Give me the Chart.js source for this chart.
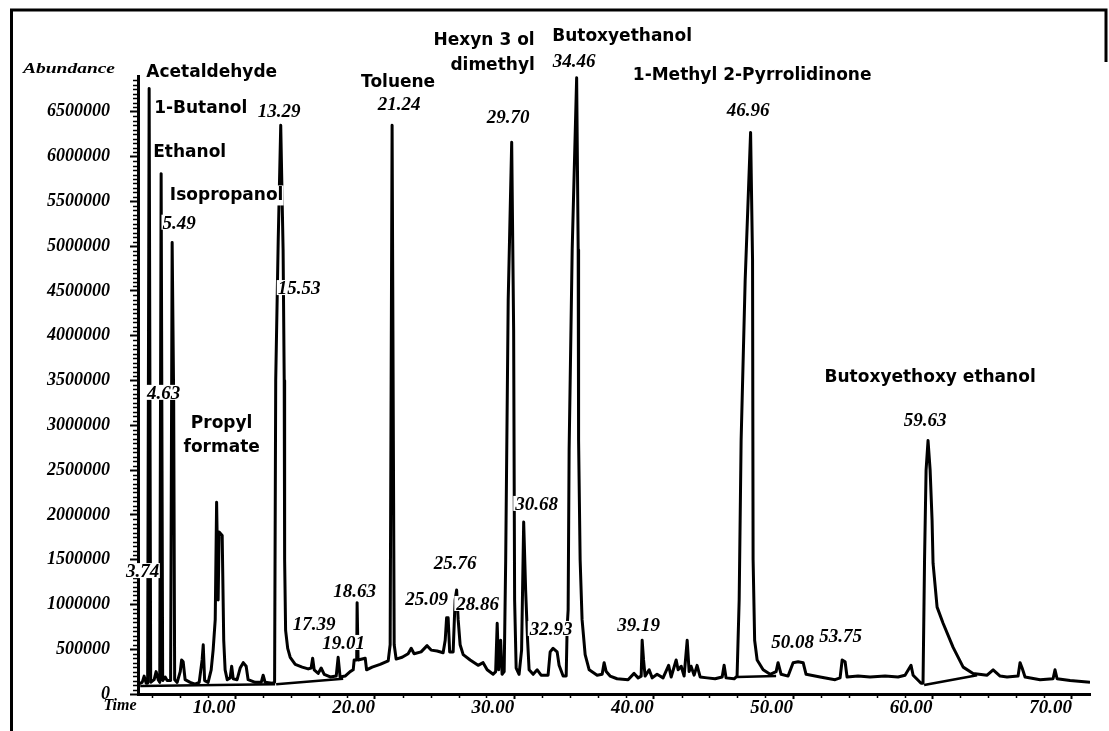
<!DOCTYPE html>
<html>
<head>
<meta charset="utf-8">
<title>Chromatogram</title>
<script src="https://cdn.jsdelivr.net/npm/chart.js@4.4.0/dist/chart.umd.min.js"></script>
<style>
  html, body { margin: 0; padding: 0; background: #fff; }
  #wrap { width: 1109px; height: 731px; }
</style>
</head>
<body>
<div id="wrap"><canvas id="myChart" width="1109" height="731"></canvas></div>
<script>
// retention time (min) / abundance
var traceTime = [3.01, 3.30, 3.44, 3.59, 3.69, 3.80, 3.91, 4.16, 4.30, 4.45, 4.56, 4.66, 4.77, 4.95, 5.09, 5.34, 5.45, 5.56, 5.63, 5.81,
  6.03, 6.13, 6.24, 6.38, 6.74, 7.10, 7.39, 7.60, 7.68, 7.78, 8.03, 8.25, 8.39, 8.54, 8.64, 8.75, 8.82, 9.04, 9.15, 9.25,
  9.40, 9.61, 9.72, 9.83, 10.11, 10.33, 10.55, 10.76, 10.90, 11.41, 11.84, 11.98, 12.12, 12.63, 12.80, 12.88, 13.06, 13.24, 13.41, 13.49,
  13.52, 13.59, 13.74, 13.92, 14.28, 14.78, 15.21, 15.42, 15.53, 15.64, 15.93, 16.14, 16.36, 16.79, 17.22, 17.36, 17.50, 17.86, 18.22, 18.44,
  18.51, 18.69, 18.72, 18.79, 19.30, 19.40, 19.80, 20.37, 20.95, 21.09, 21.23, 21.38, 21.52, 21.95, 22.38, 22.60, 22.81, 23.31, 23.74, 24.03,
  24.46, 24.89, 25.04, 25.14, 25.25, 25.36, 25.61, 25.75, 25.86, 25.97, 26.11, 26.33, 26.83, 27.40, 27.76, 28.05, 28.48, 28.66, 28.77, 28.87,
  29.02, 29.12, 29.27, 29.38, 29.56, 29.81, 29.95, 30.02, 30.13, 30.34, 30.52, 30.67, 30.81, 30.95, 31.06, 31.35, 31.64, 31.92, 32.42, 32.57,
  32.78, 33.07, 33.21, 33.50, 33.72, 33.79, 33.86, 33.93, 34.15, 34.47, 34.58, 34.61, 34.72, 34.86, 35.08, 35.37, 35.94, 36.30, 36.44, 36.59,
  36.87, 37.37, 38.16, 38.59, 38.88, 39.10, 39.17, 39.27, 39.38, 39.67, 39.89, 40.24, 40.67, 41.07, 41.25, 41.61, 41.75, 41.97, 42.18, 42.40,
  42.54, 42.68, 42.90, 43.11, 43.33, 43.83, 44.40, 44.91, 45.05, 45.19, 45.77, 45.98, 46.13, 46.27, 46.56, 46.95, 47.09, 47.13, 47.24, 47.42,
  47.85, 48.35, 48.78, 48.92, 49.14, 49.64, 50.00, 50.36, 50.72, 50.93, 51.94, 53.01, 53.37, 53.52, 53.73, 53.87, 54.66, 55.52, 56.60, 57.53,
  58.03, 58.46, 58.61, 59.18, 59.32, 59.43, 59.54, 59.68, 59.83, 59.97, 60.04, 60.33, 60.76, 61.48, 62.20, 62.91, 63.92, 64.35, 64.85, 65.35,
  66.14, 66.28, 66.43, 66.64, 67.72, 68.65, 68.79, 68.94, 69.87, 71.30];
var traceAbundance = [110000, 130000, 200000, 120000, 120000, 6760000, 130000, 160000, 250000, 160000, 130000, 5810000, 150000, 190000, 150000, 150000, 5040000, 3280000, 160000, 130000,
  250000, 380000, 360000, 160000, 130000, 110000, 130000, 380000, 550000, 150000, 130000, 270000, 490000, 830000, 2140000, 1050000, 1810000, 1770000, 600000, 270000,
  160000, 180000, 310000, 170000, 160000, 290000, 350000, 310000, 160000, 130000, 130000, 210000, 130000, 120000, 130000, 3500000, 5070000, 6350000, 4960000, 3500000,
  1500000, 710000, 510000, 410000, 330000, 300000, 280000, 290000, 400000, 270000, 230000, 290000, 220000, 190000, 200000, 410000, 190000, 200000, 250000, 270000,
  380000, 380000, 1020000, 380000, 400000, 270000, 300000, 330000, 370000, 550000, 6350000, 550000, 390000, 410000, 450000, 510000, 450000, 470000, 540000, 490000,
  480000, 460000, 600000, 850000, 850000, 470000, 470000, 1050000, 1160000, 830000, 550000, 440000, 380000, 320000, 350000, 270000, 220000, 250000, 790000, 270000,
  600000, 220000, 250000, 1500000, 4400000, 6160000, 4060000, 1050000, 290000, 220000, 490000, 1920000, 1160000, 600000, 270000, 220000, 270000, 210000, 210000, 470000,
  510000, 470000, 320000, 200000, 200000, 750000, 940000, 2720000, 4960000, 6880000, 4960000, 2830000, 1500000, 830000, 440000, 270000, 210000, 220000, 350000, 250000,
  200000, 170000, 160000, 230000, 180000, 200000, 600000, 380000, 200000, 270000, 180000, 220000, 180000, 320000, 190000, 380000, 270000, 310000, 200000, 600000,
  250000, 310000, 210000, 320000, 190000, 180000, 170000, 190000, 320000, 180000, 170000, 200000, 1050000, 2830000, 4620000, 6270000, 4840000, 1500000, 600000, 380000,
  270000, 220000, 250000, 350000, 220000, 200000, 350000, 360000, 350000, 220000, 190000, 160000, 180000, 380000, 360000, 190000, 200000, 190000, 200000, 190000,
  210000, 320000, 210000, 120000, 120000, 1500000, 2500000, 2830000, 2500000, 1940000, 1460000, 970000, 790000, 520000, 300000, 230000, 210000, 270000, 200000, 190000,
  200000, 350000, 290000, 190000, 160000, 170000, 270000, 170000, 150000, 130000];

// integration baseline segments drawn under some peaks (null = break)
var baseTime = [3.16, 12.84, 12.87, 12.91, 17.72, 17.75, 45.98, 48.78, 48.80, 59.40, 63.20];
var baseAbundance = [90000, 110000, null, 110000, 170000, null, 190000, 200000, null, 100000, 210000];

var xTicks = [10, 20, 30, 40, 50, 60, 70];
var yTicks = [0, 500000, 1000000, 1500000, 2000000, 2500000, 3000000, 3500000, 4000000, 4500000, 5000000, 5500000, 6000000, 6500000];

// compound names and retention-time tags, anchored at (time, abundance)
var nameLabels = ['Acetaldehyde', '1-Butanol', 'Ethanol', 'Isopropanol', 'Propyl', 'formate', 'Toluene', 'Hexyn 3 ol', 'dimethyl',
  'Butoxyethanol', '1-Methyl 2-Pyrrolidinone', 'Butoxyethoxy ethanol'];
var nameTimes = [8.29, 7.50, 6.71, 9.36, 9.00, 9.00, 21.66, 27.83, 28.44, 37.73, 47.06, 59.83];
var nameLevels = [6940000, 6540000, 6040000, 5560000, 3020000, 2750000, 6830000, 7300000, 7020000, 7340000, 6910000, 3530000];

var rtLabels = ['3.74', '4.63', '5.49', '13.29', '15.53', '17.39', '18.63', '19.01', '21.24', '25.09', '25.76', '28.86', '29.70',
  '30.68', '32.93', '34.46', '39.19', '46.96', '50.08', '53.75', '59.63'];
var rtTimes = [3.34, 4.84, 5.95, 13.13, 14.56, 15.64, 18.54, 17.75, 21.74, 23.71, 25.75, 27.37, 29.56,
  31.60, 32.64, 34.29, 38.92, 46.77, 49.96, 53.41, 59.47];
var rtLevels = [1360000, 3350000, 5250000, 6500000, 4520000, 770000, 1140000, 558000, 6570000, 1050000, 1450000, 993000, 6430000,
  2110000, 714000, 7050000, 759000, 6510000, 569000, 636000, 3050000];

var numFont = { family: 'Liberation Serif', size: 18, weight: 'bold', style: 'italic' };

var tracePoints = traceTime.map(function (t, i) { return { x: t, y: traceAbundance[i] }; });
var basePoints = baseTime.map(function (t, i) { return { x: t, y: baseAbundance[i] }; });

function boxedText(ctx, text, x, y) {
  var m = ctx.measureText(text);
  var l = x - m.actualBoundingBoxLeft - 1;
  var t = y - m.actualBoundingBoxAscent - 1;
  var w = m.actualBoundingBoxLeft + m.actualBoundingBoxRight + 2;
  var h = m.actualBoundingBoxAscent + m.actualBoundingBoxDescent + 2;
  ctx.fillStyle = '#fff';
  ctx.fillRect(l, t, w, h);
  ctx.fillStyle = '#000';
  ctx.fillText(text, x, y);
}

var decor = {
  id: 'decor',
  beforeDraw: function (chart) {
    var ctx = chart.ctx;
    ctx.save();
    ctx.fillStyle = '#fff';
    ctx.fillRect(0, 0, chart.width, chart.height);
    // scanned page frame
    ctx.strokeStyle = '#000';
    ctx.lineWidth = 3;
    ctx.beginPath();
    ctx.moveTo(11.5, 731); ctx.lineTo(11.5, 10); ctx.lineTo(1106, 10);
    ctx.lineTo(1106, 62);
    ctx.stroke();
    ctx.restore();
  },
  afterDraw: function (chart) {
    var ctx = chart.ctx;
    var xs = chart.scales.x, ys = chart.scales.y;
    var area = chart.chartArea;
    ctx.save();
    // minor ticks
    ctx.strokeStyle = '#000';
    ctx.lineWidth = 1.5;
    ctx.beginPath();
    for (var v = 50000; v <= 6850000; v += 50000) {
      if (v % 500000 === 0) continue;
      var py = Math.round(ys.getPixelForValue(v)) + 0.5;
      ctx.moveTo(area.left - 5, py); ctx.lineTo(area.left, py);
    }
    for (var t = 4; t <= 70; t += 2) {
      if (t % 10 === 0) continue;
      var px = Math.round(xs.getPixelForValue(t)) + 0.5;
      ctx.moveTo(px, area.bottom); ctx.lineTo(px, area.bottom + 4);
    }
    ctx.stroke();

    // axis captions
    ctx.fillStyle = '#000';
    ctx.font = 'italic bold 15px "Liberation Serif"';
    ctx.textBaseline = 'middle';
    var w = ctx.measureText('Abundance').width;
    ctx.save();
    ctx.translate(area.left - 115, area.top - 7);
    ctx.scale(92 / w, 1);
    ctx.textAlign = 'left';
    ctx.fillText('Abundance', 0, 0);
    ctx.restore();
    ctx.font = 'italic bold 16px "Liberation Serif"';
    ctx.textAlign = 'center';
    ctx.fillText('Time', area.left - 18, area.bottom + 12);

    // compound names
    ctx.textAlign = 'center';
    ctx.textBaseline = 'middle';
    ctx.font = 'bold 17px "DejaVu Sans"';
    nameLabels.forEach(function (s, i) {
      boxedText(ctx, s, xs.getPixelForValue(nameTimes[i]), ys.getPixelForValue(nameLevels[i]));
    });
    // retention time tags
    ctx.font = 'italic bold 19px "Liberation Serif"';
    rtLabels.forEach(function (s, i) {
      boxedText(ctx, s, xs.getPixelForValue(rtTimes[i]), ys.getPixelForValue(rtLevels[i]));
    });
    ctx.restore();
  }
};

var ctx = document.getElementById('myChart').getContext('2d');
var chart = new Chart(ctx, {
  type: 'line',
  data: {
    datasets: [{
      label: 'TIC',
      data: tracePoints,
      borderColor: '#000',
      borderWidth: 3,
      borderJoinStyle: 'round',
      pointRadius: 0,
      tension: 0,
      fill: false
    }, {
      label: 'baseline',
      data: basePoints,
      borderColor: '#000',
      borderWidth: 2.5,
      pointRadius: 0,
      spanGaps: false,
      tension: 0,
      fill: false
    }]
  },
  options: {
    responsive: false,
    animation: false,
    events: [],
    layout: { padding: { top: 76, right: 19, bottom: 0, left: 0 } },
    plugins: {
      legend: { display: false },
      tooltip: { enabled: false }
    },
    scales: {
      x: {
        type: 'linear',
        min: 3.0,
        max: 71.3,
        afterFit: function (s) { s.height = 37; },
        afterBuildTicks: function (s) { s.ticks = xTicks.map(function (v) { return { value: v }; }); },
        grid: { display: true, drawOnChartArea: false, drawTicks: true, tickLength: 5, tickWidth: 2, tickColor: '#000', color: '#000' },
        border: { display: true, color: '#000', width: 3 },
        ticks: {
          align: 'end', padding: -2, maxRotation: 0, autoSkip: false, color: '#000',
          font: { family: 'Liberation Serif', size: 19, weight: 'bold', style: 'italic' },
          callback: function (v) { return Number(v).toFixed(2); }
        }
      },
      y: {
        min: 0,
        max: 6900000,
        afterFit: function (s) { s.width = 138; },
        afterBuildTicks: function (s) { s.ticks = yTicks.map(function (v) { return { value: v }; }); },
        grid: { display: true, drawOnChartArea: false, drawTicks: true, tickLength: 8, tickWidth: 2, tickColor: '#000', color: '#000' },
        border: { display: true, color: '#000', width: 3 },
        ticks: {
          padding: 20, autoSkip: false, color: '#000', font: numFont,
          callback: function (v) { return String(v); }
        }
      }
    }
  },
  plugins: [decor]
});
</script>
</body>
</html>
